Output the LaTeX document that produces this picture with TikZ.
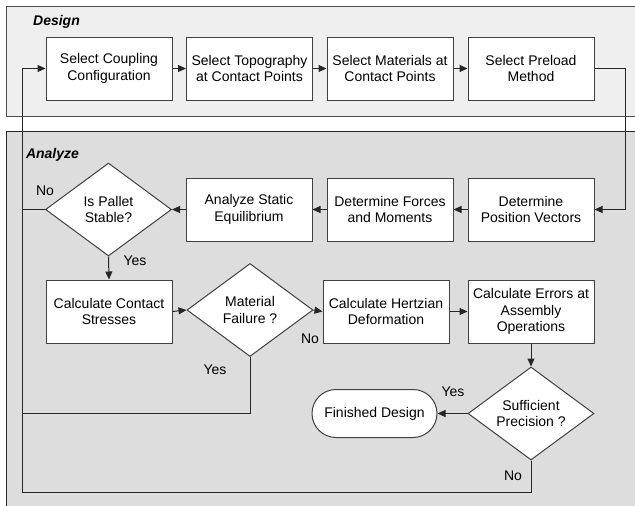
\documentclass[tikz,border=0pt]{standalone}
\usepackage{fontspec}
\setmainfont{Liberation Sans}
\usetikzlibrary{shapes.geometric,arrows.meta}
\definecolor{designbg}{HTML}{EFEFEF}
\definecolor{analyzebg}{HTML}{DDDDDD}
\definecolor{edgegray}{HTML}{404040}
\begin{document}
\begin{tikzpicture}[x=1pt,y=-1pt,
 every node/.style={font=\fontsize{14}{16.5}\selectfont},
 procbox/.style={draw=edgegray,fill=white,line width=1pt,minimum width=126pt,minimum height=63pt,inner sep=0pt,align=center},
 decision/.style={diamond,draw=edgegray,fill=white,line width=1pt,minimum width=126pt,minimum height=93pt,inner sep=0pt,align=center,aspect=1.355},
 terminal/.style={draw=edgegray,fill=white,line width=1pt,rounded corners=24pt,minimum width=125pt,minimum height=48pt,inner sep=0pt,align=center},
 flow/.style={line width=1pt,draw=black!85,-{Triangle[length=8pt,width=7pt]}},
 link/.style={line width=1pt,draw=black!85},
 panellabel/.style={font=\fontsize{14}{16.5}\selectfont\bfseries\itshape,inner sep=0pt},
 lbl/.style={inner sep=0pt}]
\clip (0,0) rectangle (635,506);
\fill[white] (0,0) rectangle (635,506);
% panels
\draw[fill=designbg,draw=black!70,line width=1pt] (6,6) rectangle (645,116);
\draw[fill=analyzebg,draw=black!85,line width=1pt] (6,131) rectangle (645,516);
\node[panellabel] (designlbl) at (56.5,22) {Design};
\node[panellabel] (analyzelbl) at (52.5,154.5) {Analyze};
% design row
\node[procbox] (d1) at (109,68.5) {Select Coupling\\Configuration};
\node[procbox] (d2) at (249.5,68.5) {Select Topography\\at Contact Points};
\node[procbox] (d3) at (390,68.5) {Select Materials at\\Contact Points};
\node[procbox] (d4) at (531,68.5) {Select Preload\\Method};
% analyze row 1
\node[decision] (ps) at (108.5,209.5) {Is Pallet\\Stable?};
\node[procbox] (se) at (249,209.5) {Analyze Static\\Equilibrium};
\node[procbox] (fm) at (390,209.5) {Determine Forces\\and Moments};
\node[procbox] (pv) at (531,209.5) {Determine\\Position Vectors};
% analyze row 2
\node[procbox] (cs) at (109,311.5) {Calculate Contact\\Stresses};
\node[decision] (mf) at (250,310) {Material\\Failure ?};
\node[procbox] (hd) at (386,311.5) {Calculate Hertzian\\Deformation};
\node[procbox] (ce) at (531,311.5) {Calculate Errors at\\Assembly\\Operations};
% analyze row 3
\node[decision] (sp) at (531,413.5) {Sufficient\\Precision ?};
\node[terminal] (fd) at (374.5,413.5) {Finished Design};
% labels
\node[lbl] (noA) at (45,191) {No};
\node[lbl] (yesA) at (135,261) {Yes};
\node[lbl] (noB) at (310,339) {No};
\node[lbl] (yesB) at (215,370) {Yes};
\node[lbl] (yesC) at (453,392) {Yes};
\node[lbl] (noC) at (513,476) {No};
% coordinates
\coordinate (cR1) at (625,68.5);
\coordinate (cL0) at (22,68.5);
\coordinate (cL1) at (22,209.5);
\coordinate (cL2) at (22,413);
\coordinate (cL3) at (22,492);
\coordinate (cB2) at (250,413);
\coordinate (cB3) at (531,492);
% connectors
\draw[flow] (d1.east) -- (d2.west);
\draw[flow] (d2.east) -- (d3.west);
\draw[flow] (d3.east) -- (d4.west);
\draw[flow] (d4.east) -- (cR1) |- (pv.east);
\draw[flow] (pv.west) -- (fm.east);
\draw[flow] (fm.west) -- (se.east);
\draw[flow] (se.west) -- (ps.east);
\draw[link] (ps.west) -- (cL1);
\draw[flow] (ps.south) -- (cs.north);
\draw[flow] (cs.east) -- (mf.west);
\draw[flow] (mf.east) -- (hd.west);
\draw[link] (mf.south) -- (cB2) -- (cL2);
\draw[flow] (hd.east) -- (ce.west);
\draw[flow] (ce.south) -- (sp.north);
\draw[flow] (sp.west) -- (fd.east);
\draw[flow] (sp.south) -- (cB3) -- (cL3) -- (cL0) -- (d1.west);
\end{tikzpicture}
\end{document}
